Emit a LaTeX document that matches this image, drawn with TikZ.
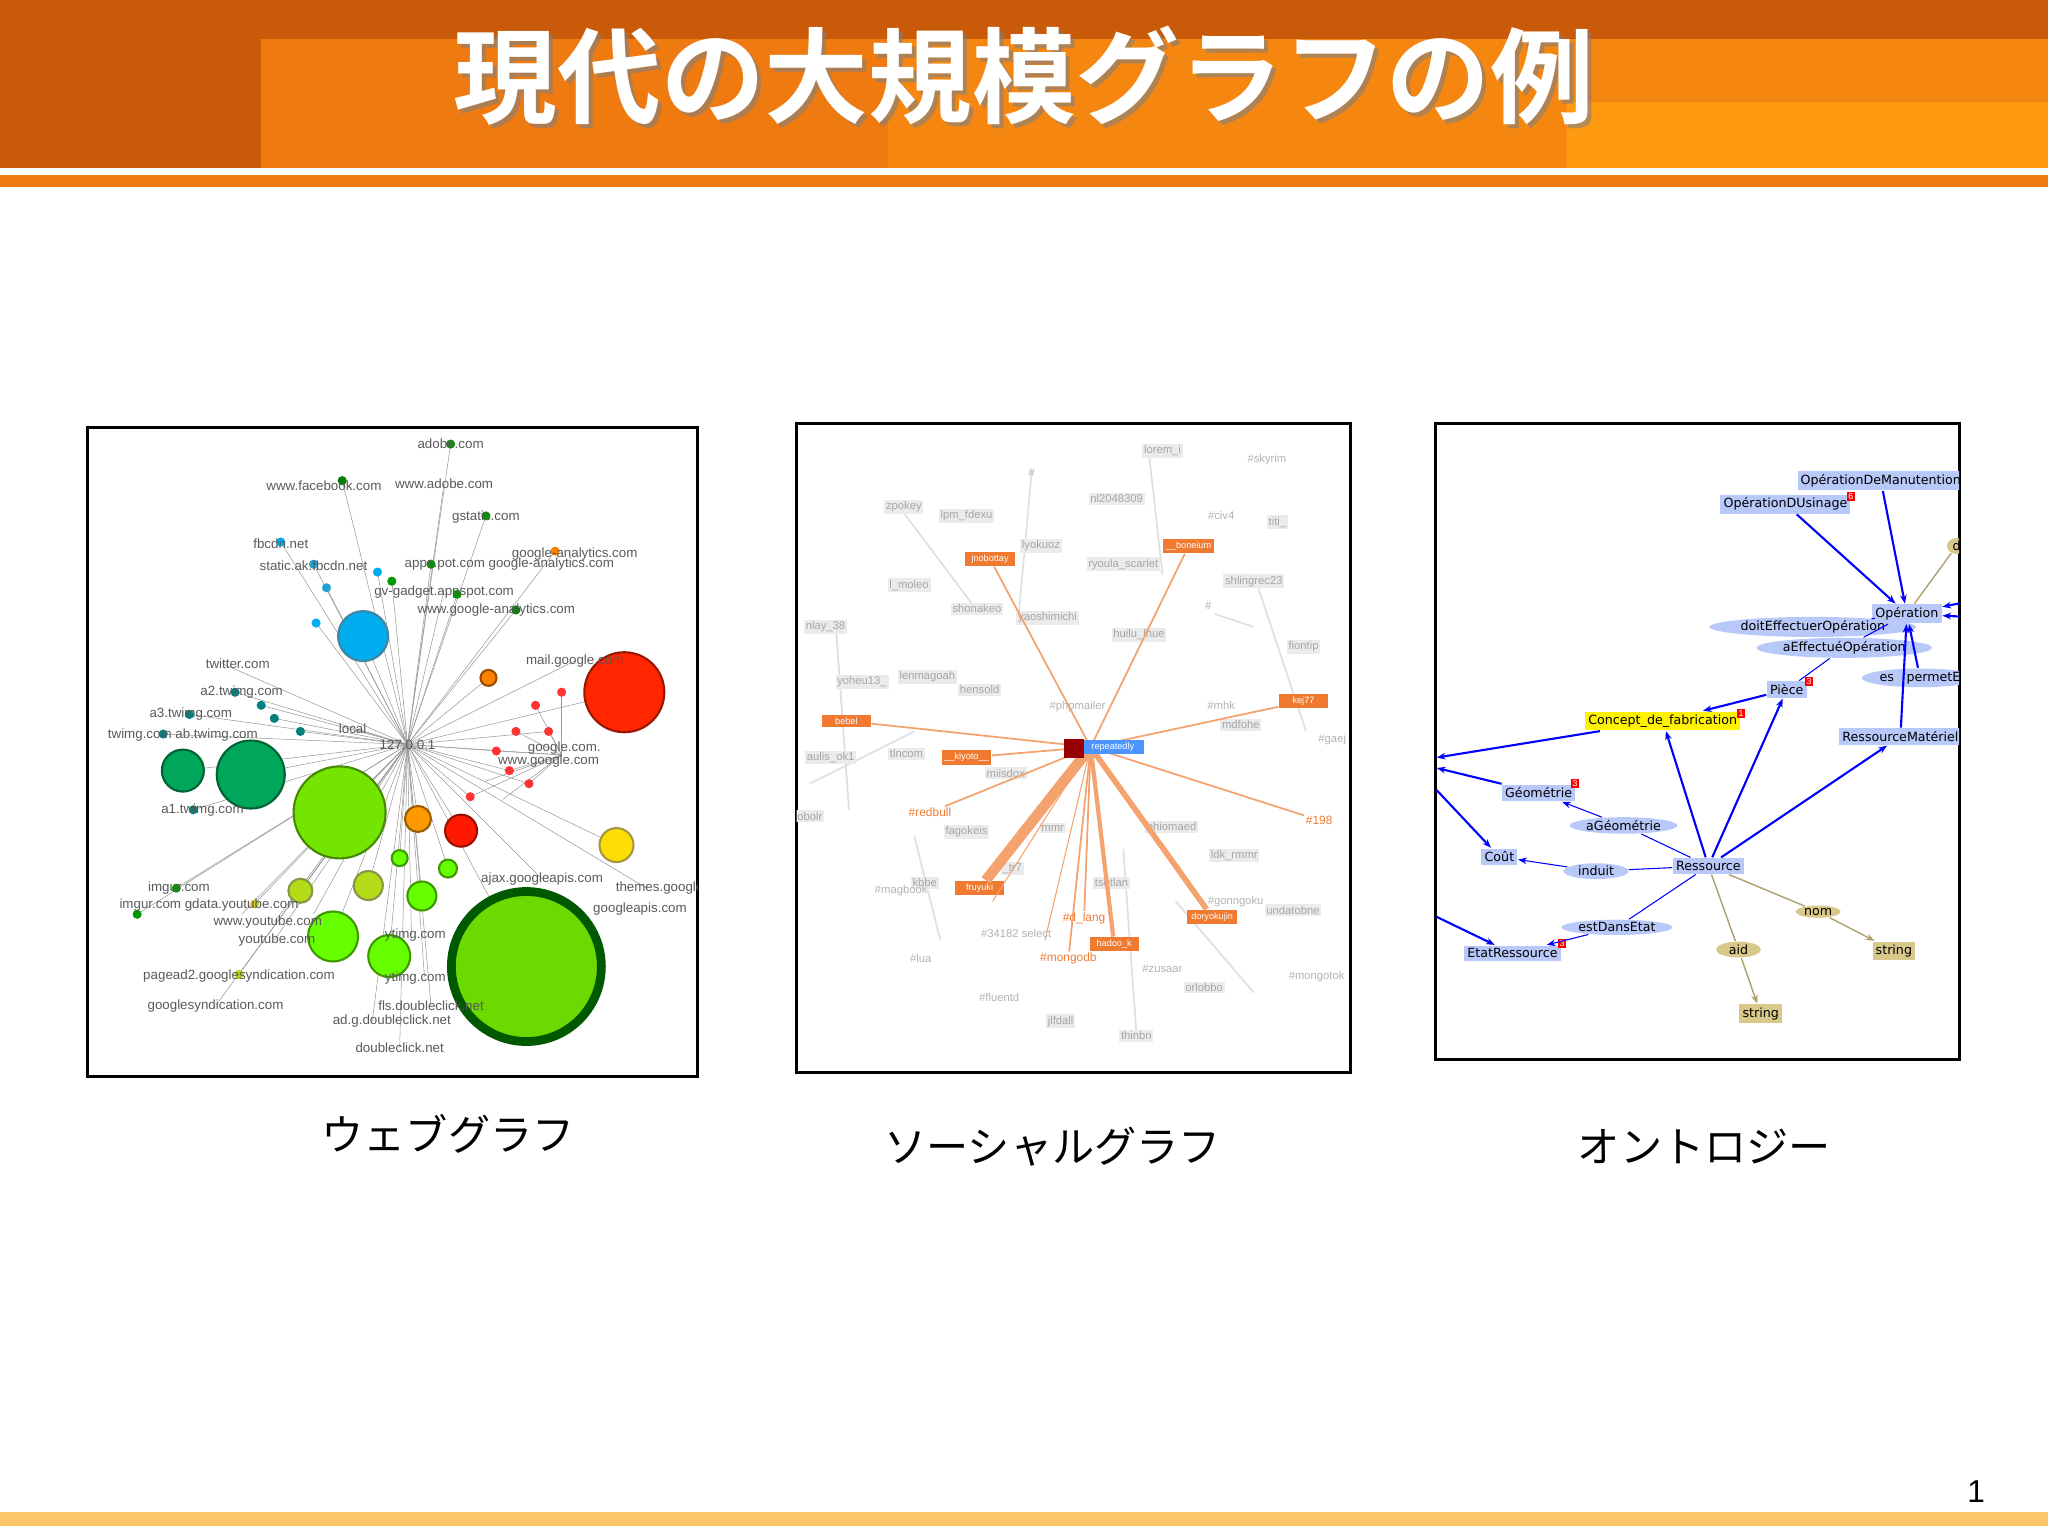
\documentclass[tikz,border=0pt]{standalone}
\usepackage{fontspec}
\setmainfont{Liberation Sans}
\newfontfamily\cjk{Noto Sans CJK JP}
\newfontfamily\cjkb{Noto Sans CJK JP Bold}
\newfontfamily\ontf{DejaVu Sans}
\usetikzlibrary{shapes.geometric,arrows.meta}
\definecolor{orA}{HTML}{C95A0A}
\definecolor{orB}{HTML}{EE7A10}
\definecolor{orC}{HTML}{FF9A10}
\definecolor{barY}{HTML}{FBC66A}
\definecolor{ontB}{HTML}{B8C8F8}
\definecolor{tan}{HTML}{D8C88A}
\definecolor{socO}{HTML}{F07A30}
\tikzset{
 wl/.style={font=\fontsize{3.8}{4}\selectfont,text=black!65,inner sep=0.3pt},
 ed/.style={draw=black!40,line width=0.15pt},
 bub/.style={circle,draw=#1!60!black,fill=#1,line width=0.6pt,inner sep=0pt},
 so/.style={fill=socO,text=white,font=\fontsize{2.6}{3}\selectfont,inner sep=0.8pt,minimum width=14pt},
 sg/.style={font=\fontsize{3.2}{3.5}\selectfont,text=black!30,inner sep=0.5pt},
 sh/.style={font=\fontsize{3.4}{4}\selectfont,text=socO,inner sep=0.3pt},
 se/.style={draw=socO!70,line width=#1},
 ob/.style={fill=ontB,font=\ontf\fontsize{3.6}{4}\selectfont,inner sep=0.9pt},
 oe/.style={ellipse,fill=ontB,font=\ontf\fontsize{3.6}{4}\selectfont,inner sep=0.2pt},
 te/.style={ellipse,fill=tan,font=\ontf\fontsize{3.6}{4}\selectfont,inner sep=0.2pt},
 tb/.style={fill=tan,font=\ontf\fontsize{3.6}{4}\selectfont,inner sep=0.9pt},
 ar/.style={draw=blue,line width=0.6pt,-{Stealth[length=2.5pt]}},
 tl/.style={draw=tan!80!black,line width=0.4pt,-{Stealth[length=2.5pt]}},
 bd/.style={fill=red,text=white,font=\fontsize{2.5}{3}\selectfont,inner sep=0.4pt},
 captxt/.style={font=\cjk\fontsize{12}{14}\selectfont},
 pan/.style={draw=black,line width=0.8pt}
}
\begin{document}
\begin{tikzpicture}[x=0.013061cm,y=-0.013061cm]
\useasboundingbox (0,0) rectangle (1568,1176);
% header
\fill[orA] (0,0) rectangle (1568,130);
\fill[orB] (200,30) rectangle (1568,130);
\fill[orB!60!orC] (680,30) rectangle (1568,130);
\fill[orC] (1200,78) rectangle (1568,130);
\fill[white] (0,129) rectangle (1568,133);
\fill[orB] (0,134) rectangle (1568,143);
\node[font=\cjkb\fontsize{29.5}{32}\selectfont,text=black!50,opacity=0.6] at (787,61) {現代の大規模グラフの例};
\node[font=\cjkb\fontsize{29.5}{32}\selectfont,text=white] (title) at (784,58) {現代の大規模グラフの例};
\fill[barY] (0,1158) rectangle (1568,1168);
\node[font=\fontsize{9}{10}\selectfont] (pg) at (1513,1142) {1};
% ===== web graph =====
\draw[pan] (67,327) rectangle (534,824);
\begin{scope}
\clip (67,327) rectangle (534,824);
\coordinate (c) at (312,570);
\foreach \x/\y in {345/340,262/368,340/370,372/395,215/415,240/432,425/422,330/432,340/452,395/467,170/508,180/530,145/547,125/562,148/620,440/506,430/578,270/558,415/673,495/680,135/680,105/700,195/692,210/706,210/720,183/746,165/770,315/716,325/748,330/770,285/782,306/802,278/487,140/590,192/593,260/622,403/740,478/530,320/627,353/636,472/647,282/678,323/686,298/732,255/717,230/682,306/657,343/665,374/519,242/477,289/438,390/590,405/600,380/575,420/560,360/610,210/550,230/560,200/540,250/450,300/445,350/455,185/700,240/700}
  \draw[ed] (c) -- (\x,\y);
\foreach \x/\y in {390/590,405/600,380/575,420/560,360/610,395/560,410/540,430/530,372/598,385/612}
  \draw[ed] (430,578) -- (\x,\y);
\foreach \x/\y/\cl in {345/340/green!60!black,262/368/green!50!black,372/395/green!60!black,215/415/cyan,240/432/cyan!70!teal,425/422/orange,330/432/green!60!black,395/467/green!50!black,180/530/teal,145/547/teal,125/562/teal,148/620/teal,135/680/green!60!black,105/700/green!60!black,195/692/yellow!80!black,183/746/yellow!70!green,374/519/orange,242/477/cyan,289/438/cyan,390/590/red!80,405/600/red!80,380/575/red!80,420/560/red!80,360/610/red!80,395/560/red!80,410/540/red!80,430/530/red!80,210/550/teal,230/560/teal,200/540/teal,250/450/cyan!70!teal,300/445/green!60!black,350/455/green!60!black}
  \fill[\cl] (\x,\y) circle (3.5);
\node[bub=cyan,minimum size=0.50cm] (n1) at (278,487) {};
\node[bub=teal!70!green,minimum size=0.42cm] (n2) at (140,590) {};
\node[bub=teal!70!green,minimum size=0.68cm] (n3) at (192,593) {};
\node[bub=green!50!yellow!90!black,minimum size=0.92cm] (n4) at (260,622) {};
\node[circle,draw=green!35!black,fill=green!50!yellow!85!black,line width=2.5pt,minimum size=1.50cm,inner sep=0pt] (n5) at (403,740) {};
\node[bub=red!70!orange,minimum size=0.80cm] (n6) at (478,530) {};
\node[bub=orange!80!yellow,minimum size=0.26cm] (n7) at (320,627) {};
\node[bub=red!80!orange,minimum size=0.32cm] (n8) at (353,636) {};
\node[bub=yellow!80!orange,minimum size=0.34cm] (n9) at (472,647) {};
\node[bub=yellow!70!green,minimum size=0.29cm] (n10) at (282,678) {};
\node[bub=green!60!yellow,minimum size=0.29cm] (n11) at (323,686) {};
\node[bub=green!60!yellow,minimum size=0.42cm] (n12) at (298,732) {};
\node[bub=green!60!yellow,minimum size=0.50cm] (n13) at (255,717) {};
\node[bub=yellow!70!green,minimum size=0.24cm] (n14) at (230,682) {};
\node[bub=green!60!yellow,minimum size=0.16cm] (n15) at (306,657) {};
\node[bub=green!60!yellow,minimum size=0.18cm] (n16) at (343,665) {};
\node[bub=orange,minimum size=0.16cm] (n17) at (374,519) {};
\foreach \x/\y/\t in {345/340/adobe.com,248/372/www.facebook.com,340/370/www.adobe.com,372/396/gstatic.com,215/416/fbcdn.net,240/433/static.ak.fbcdn.net,440/424/google-analytics.com,390/432/apps.pot.com google-analytics.com,340/453/gv-gadget.appspot.com,380/467/www.google-analytics.com,182/508/twitter.com,185/530/a2.twimg.com,146/547/a3.twimg.com,140/563/twimg.com ab.twimg.com,155/620/a1.twimg.com,440/506/mail.google.com,432/573/google.com.,420/583/www.google.com,270/558/local,312/570/127.0.0.1,415/673/ajax.googleapis.com,505/680/themes.google,490/696/googleapis.com,137/680/imgur.com,160/693/imgur.com gdata.youtube.com,205/706/www.youtube.com,212/720/youtube.com,183/747/pagead2.googlesyndication.com,165/770/googlesyndication.com,318/716/ytimg.com,318/749/ytimg.com,330/770/fls.doubleclick.net,300/782/ad.g.doubleclick.net,306/802/doubleclick.net}
  \node[wl] at (\x,\y) {\t};
\end{scope}
\node[captxt] (c1) at (343,868) {ウェブグラフ};
% ===== social graph =====
\draw[pan] (610,324) rectangle (1034,821);
\begin{scope}
\clip (610,324) rectangle (1034,821);
\foreach \x/\y/\a/\b in {790/360/780/470,880/350/890/440,690/390/750/470,640/480/650/620,960/440/1000/560,700/640/720/720,860/650/870/790,900/690/960/760,620/600/700/560,930/470/960/480}
  \draw[black!12,line width=0.5pt] (\x,\y) -- (\a,\b);
\foreach \x/\y/\t in {890/345/lorem\_i,692/388/zpokey,855/382/nl2048309,978/400/titi\_,740/395/lpm\_fdexu,797/418/lyokuoz,860/432/ryoula\_scarlet,960/445/shlingrec23,696/448/l\_moleo,748/466/shonakeo,802/473/yaoshimichi,872/486/huilu\_lhue,632/480/nlay\_38,660/522/yoheu13\_,710/518/lenmagoah,750/528/hensold,636/580/aulis\_ok1,694/577/tlncom,770/592/miisdox,998/495/fiontip,950/555/mdfohe,740/637/fagokeis,806/634/mmr,897/633/ohiomaed,945/655/ldk\_rmmr,775/665/\_tr7,851/676/tsotlan,990/697/undatobne,708/676/kbbe,922/756/orlobbo,812/782/jlfdall,870/793/thinbn,620/625/obolr}
  \node[sg,fill=black!8,text=black!35] at (\x,\y) {\t};
\coordinate (sc) at (835,572);
\node[so] (s1) at (758,428) {jnobottay};
\node[so] (s2) at (910,418) {\_\_boneium};
\node[so] (s3) at (648,552) {bebel};
\node[so] (s4) at (740,580) {\_\_kiyoto\_\_};
\node[so] (s5) at (998,537) {kej77};
\node[so] (s6) at (750,680) {fruyuki};
\node[so] (s7) at (853,723) {hadoo\_k};
\node[so] (s8) at (928,702) {doryokujin};
\node[sh] (h1) at (712,622) {\#redbull};
\node[sh] (h2) at (1010,628) {\#198};
\node[sh] (h3) at (830,703) {\#d\_lang};
\node[sh] (h4) at (818,734) {\#mongodb};
\draw[se=3pt] (sc) -- (s6);
\draw[se=1.6pt] (sc) -- (s8);
\draw[se=1.2pt] (sc) -- (s7);
\foreach \n in {s1,s2,s3,s4,s5,h1,h2,h3,h4}
  \draw[se=0.5pt] (sc) -- (\n);
\draw[se=0.3pt] (sc) -- (760,690);
\draw[se=0.3pt] (sc) -- (800,720);
\node[fill=blue!60!cyan!70,text=white,font=\fontsize{2.6}{3}\selectfont,inner sep=0.8pt,minimum width=18pt] (sct) at (852,572) {repeatedly};
\fill[red!60!black] (815,566) rectangle (830,580);
\foreach \x/\y/\t in {970/352/\#skyrim,935/395/\#civ4,925/464/\#,790/362/\#,825/541/\#phpmailer,935/540/\#mhk,1020/566/\#gaej,705/734/\#lua,765/764/\#fluentd,890/742/\#zusaar,1008/748/\#mongotok,778/715/\#34182 select,690/682/\#magbook,946/690/\#gonngoku}
  \node[sg] at (\x,\y) {\t};
\end{scope}
\node[captxt] (c2) at (806,878) {ソーシャルグラフ};
% ===== ontology =====
\draw[pan] (1099,324) rectangle (1500,811);
\begin{scope}
\clip (1099,324) rectangle (1500,811);
\node[ob] (o1) at (1440,368) {OpérationDeManutention};
\node[ob] (o2) at (1367,386) {OpérationDUsinage};
\node[bd] at (1417,380) {6};
\node[te] (od) at (1498,418) {\,d\,};
\node[ob] (o3) at (1460,470) {Opération};
\node[oe] (o4) at (1388,480) {doitEffectuerOpération};
\node[oe] (o5) at (1412,496) {aEffectuéOpération};
\node[oe] (o6) at (1470,519) {es\quad permetE};
\node[ob] (o7) at (1368,528) {Pièce};
\node[bd] at (1385,522) {3};
\node[ob,fill=yellow] (o8) at (1273,552) {Concept\_de\_fabrication};
\node[bd] at (1333,546) {1};
\node[ob] (o9) at (1455,564) {RessourceMatériel};
\node[ob] (o10) at (1178,607) {Géométrie};
\node[bd] at (1206,600) {3};
\node[oe] (o11) at (1243,632) {aGéométrie};
\node[ob] (o12) at (1148,656) {Coût};
\node[oe,minimum width=0.65cm] (o13) at (1222,667) {induit};
\node[ob] (o14) at (1308,663) {Ressource};
\node[te,minimum width=0.45cm] (o15) at (1392,698) {nom};
\node[tb] (o16) at (1450,728) {string};
\node[te,minimum width=0.45cm] (o17) at (1331,727) {aid};
\node[tb] (o18) at (1348,776) {string};
\node[oe,minimum width=1.0cm] (o19) at (1238,710) {estDansEtat};
\node[ob] (o20) at (1158,730) {EtatRessource};
\node[bd] at (1196,722) {3};
\coordinate (l1) at (1100,580);
\coordinate (l2) at (1100,588);
\coordinate (l3) at (1100,605);
\coordinate (l4) at (1100,702);
\coordinate (r1) at (1500,462);
\coordinate (r2) at (1500,472);
\draw[ar] (o2) -- (o3);
\draw[ar] (o1) -- (o3);
\draw[ar] (o7) -- (o8);
\draw[ar] (o14) -- (o8);
\draw[ar] (o14) -- (o7);
\draw[ar] (o14) -- (o9);
\draw[ar] (o9) -- (o3);
\draw[ar] (o6) -- (o3);
\draw[ar] (r1) -- (o3);
\draw[ar] (r2) -- (o3);
\draw[ar] (o8) -- (l1);
\draw[ar] (o10) -- (l2);
\draw[ar] (l3) -- (o12);
\draw[ar] (l4) -- (o20);
\draw[blue,line width=0.3pt] (o14) -- (o11);
\draw[ar,line width=0.3pt] (o11) -- (o10);
\draw[blue,line width=0.3pt] (o14) -- (o13);
\draw[ar,line width=0.3pt] (o13) -- (o12);
\draw[blue,line width=0.3pt] (o14) -- (o19);
\draw[ar,line width=0.3pt] (o19) -- (o20);
\draw[blue,line width=0.3pt] (o7) -- (o5);
\draw[blue,line width=0.3pt] (o4) -- (o3);
\draw[blue,line width=0.3pt] (o5) -- (o3);
\draw[tan!80!black,line width=0.4pt] (o14) -- (o15);
\draw[tl] (o15) -- (o16);
\draw[tan!80!black,line width=0.4pt] (o14) -- (o17);
\draw[tl] (o17) -- (o18);
\draw[tan!80!black,line width=0.4pt] (o3) -- (od);
\end{scope}
\node[captxt] (c3) at (1305,878) {オントロジー};
\end{tikzpicture}
\end{document}
